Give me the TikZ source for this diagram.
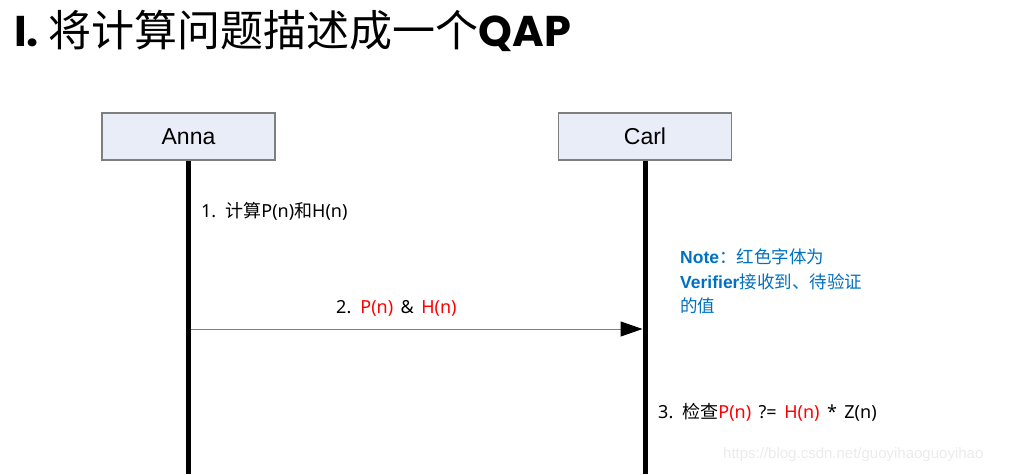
\documentclass[tikz,border=0pt]{standalone}
\usepackage{fontspec}
\usepackage{xcolor}
\usepackage{tikz}
\usetikzlibrary{positioning, arrows.meta}
\setmainfont{Liberation Sans}
\newfontfamily\cjk{Noto Sans CJK SC}[BoldFont={Noto Sans CJK SC Bold}]
\newfontfamily\lat{Noto Sans}[WordSpace=1.6]
\newfontfamily\heavy{Poppins}[BoldFont={Poppins Bold}]
\definecolor{boxFill}{HTML}{E8EDF7}
\definecolor{boxLine}{HTML}{7F7F7F}
\definecolor{noteBlue}{HTML}{0070C0}
\definecolor{valRed}{HTML}{FF0000}
\definecolor{markGray}{HTML}{EBEBEB}
\newcommand{\zh}[1]{{\cjk #1}}
\newcommand{\red}[1]{\textcolor{valRed}{#1}}

\begin{document}
\begin{tikzpicture}[
    x=1pt, y=-1pt,
    actor/.style={rectangle, draw=boxLine, line width=1.2pt, fill=boxFill, minimum width=173pt, minimum height=47pt, inner sep=0pt, font=\fontsize{23}{26}\selectfont},
    lifeline/.style={line width=5pt, black},
    msg/.style={draw=boxLine, line width=1pt, -{Triangle[length=22pt, width=15pt, color=black]}},
    label/.style={anchor=west, inner sep=0pt, font=\lat\fontsize{18}{20}\selectfont}
]
\useasboundingbox (0,0) rectangle (1009,474);

% title
\node[anchor=west, inner sep=0pt, font=\cjk\fontsize{43}{46}\selectfont] (title) at (14,31)
    {{\heavy\bfseries I.} 将计算问题描述成一个{\heavy\bfseries QAP}};

% actors
\node[actor] (anna) at (188.5,136.5) {Anna};
\node[actor] (carl) at (645,136.5) {Carl};
\coordinate (annaEnd) at (188.5,474);
\coordinate (carlEnd) at (645,474);
\draw[lifeline] (anna.south) -- (annaEnd);
\draw[lifeline] (carl.south) -- (carlEnd);

% steps
\node[label] (step1) at (201,211) {1. \zh{计算}P(n)\zh{和}H(n)};

\coordinate (sendA) at (191,329);
\coordinate (sendC) at (642.5,329);
\draw[msg] (sendA) -- (sendC);
\node[label] (step2) at (336,308) {2. \red{P(n)} \& \red{H(n)}};

\node[label] (step3) at (658,412) {3. \zh{检查}\red{P(n)} ?= \red{H(n)} * Z(n)};

% note
\node[anchor=north west, inner sep=0pt, align=left, text=noteBlue, font=\cjk\fontsize{17.5}{24.5}\selectfont] (note) at (680,248.5)
    {{\rmfamily\bfseries Note}：红色字体为\\{\rmfamily\bfseries Verifier}接收到、待验证\\的值};

% watermark
\node[anchor=west, inner sep=0pt, text=markGray, font=\fontsize{15}{18}\selectfont] (mark) at (723,455) {https://blog.csdn.net/guoyihaoguoyihao};
\end{tikzpicture}
\end{document}
